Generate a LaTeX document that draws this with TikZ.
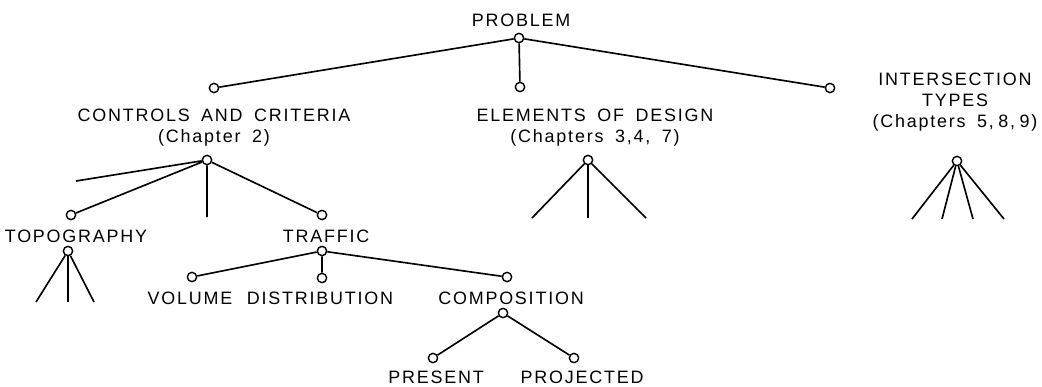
\documentclass[tikz,border=0pt]{standalone}
\usepackage{fontspec}
\setmainfont{Liberation Sans}[LetterSpace=10, WordSpace=1.7]
\usepackage{tikz}
\usetikzlibrary{positioning}

\begin{document}
\begin{tikzpicture}[x=0.03cm, y=-0.03cm, line width=1.4pt,
  every node/.style={align=center, inner sep=0pt, font=\fontsize{15.3}{17.8}\selectfont},
  pt/.style={circle, draw, fill=white, line width=1.2pt, minimum size=0.28cm}]
 \useasboundingbox (0,0) rectangle (1042,386);
 \node (prob) at (521,20) {PROBLEM};
 \node[pt] (prob-o) at (519,38) {};
 \node[pt] (con-i) at (214,88) {};
 \node (con) at (214,128) {CONTROLS AND CRITERIA\\(Chapter 2)};
 \node[pt] (con-o) at (207,160) {};
 \node[pt] (el-i) at (520,87) {};
 \node (el) at (595,128) {ELEMENTS OF DESIGN\\(Chapters 3,4, 7)};
 \node[pt] (el-o) at (588,160) {};
 \node[pt] (it-i) at (830,88) {};
 \node (it) at (955,102) {INTERSECTION\\TYPES\\(Chapters 5,\hspace{0.25em}8,\hspace{0.25em}9)};
 \node[pt] (it-o) at (957,161) {};
 \node[pt] (top-i) at (71,215) {};
 \node (top) at (76,236) {TOPOGRAPHY};
 \node[pt] (top-o) at (68,251) {};
 \node[pt] (tr-i) at (322,215) {};
 \node (tr) at (326,236) {TRAFFIC};
 \node[pt] (tr-o) at (322,251) {};
 \node[pt] (vol-i) at (192,277) {};
 \node (vol) at (190,298) {VOLUME};
 \node[pt] (dis-i) at (322,278) {};
 \node (dis) at (320,298) {DISTRIBUTION};
 \node[pt] (com-i) at (507,277) {};
 \node (com) at (511,298) {COMPOSITION};
 \node[pt] (com-o) at (503,313) {};
 \node[pt] (pre-i) at (433,358) {};
 \node (pre) at (436,377) {PRESENT};
 \node[pt] (pro-i) at (574,358) {};
 \node (pro) at (582,377) {PROJECTED};
 \coordinate (con-a) at (76,181);
 \coordinate (con-b) at (207,217);
 \draw (prob-o)--(con-i) (prob-o)--(el-i) (prob-o)--(it-i);
 \draw (con-o)--(con-a) (con-o)--(top-i) (con-o)--(con-b) (con-o)--(tr-i);
 \draw (tr-o)--(vol-i) (tr-o)--(dis-i) (tr-o)--(com-i);
 \draw (com-o)--(pre-i) (com-o)--(pro-i);
 \foreach \x [count=\i] in {36,68,94} {\coordinate (top-\i) at (\x,302); \draw (top-o)--(top-\i);}
 \foreach \x [count=\i] in {532,588,646} {\coordinate (el-\i) at (\x,218); \draw (el-o)--(el-\i);}
 \foreach \x [count=\i] in {912,942,973,1004} {\coordinate (it-\i) at (\x,219); \draw (it-o)--(it-\i);}
\end{tikzpicture}
\end{document}
